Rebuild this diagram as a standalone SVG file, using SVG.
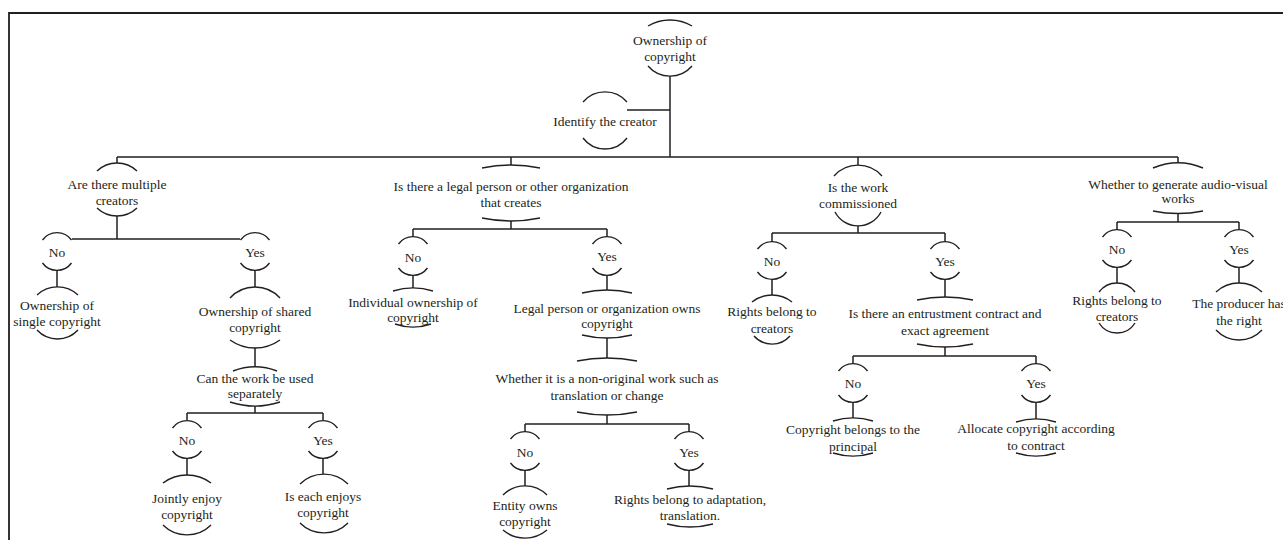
<svg xmlns="http://www.w3.org/2000/svg" width="1283" height="540" viewBox="0 0 1283 540">
<style>
.t{font-family:"Liberation Serif","Times New Roman",serif;font-size:13.5px;fill:#231f20;text-anchor:middle}
.a{fill:none;stroke:#231f20;stroke-width:1.4}
.c{fill:none;stroke:#231f20;stroke-width:1.5}
.f{fill:none;stroke:#231f20;stroke-width:1.8}
</style>
<rect x="0" y="0" width="1283" height="540" fill="#ffffff"/>
<path class="f" d="M9,540 V13 H1283"/>
<g id="connectors">
<path class="c" d="M670,76 V157 M627,110 H670 M117,157 H1178 M117,157 V163 M511,157 V165 M858,157 V165 M1178,157 V163"/>
<path class="c" d="M117,216 V239 M72,239 H240 M57,270 V287 M255,270 V287 M255,348 V367 M255,406 V413 M187,413 H323 M187,413 V420 M323,413 V420 M187,458 V475 M323,458 V474"/>
<path class="c" d="M511,221 V229 M413,229 H607 M413,229 V237 M607,229 V237 M413,275 V288 M607,275 V290 M607,338 V358 M607,415 V424 M525,424 H689 M525,424 V432 M689,424 V432 M525,470 V486 M689,470 V486"/>
<path class="c" d="M858,226 V233 M772,233 H945 M772,233 V242 M945,233 V242 M772,279 V295 M945,279 V297 M945,347 V356 M853,356 H1036 M853,356 V364 M1036,356 V364 M853,402 V418 M1036,402 V419"/>
<path class="c" d="M1178,213 V222 M1117,222 H1239 M1117,222 V230 M1239,222 V230 M1117,267 V283 M1239,267 V283"/>
</g>
<g id="root"><path class="a" d="M648,26 A43,43 0 0 1 692,26 M648,66 A29,29 0 0 0 692,66"/><text class="t" x="670" y="45">Ownership of</text><text class="t" x="670" y="61">copyright</text></g>
<g id="identify"><path class="a" d="M583,102 A29,29 0 0 1 627,102 M583,138 A27.5,27.5 0 0 0 627,138"/><text class="t" x="605" y="126">Identify the creator</text></g>
<g id="multiple"><path class="a" d="M97,171 A29,29 0 0 1 137,171 M97,208 A29,29 0 0 0 137,208"/><text class="t" x="117" y="189">Are there multiple</text><text class="t" x="117" y="205">creators</text></g>
<g id="mult-no"><path class="a" d="M42.5,240 A18,18 0 0 1 71.5,240 M42.5,263 A18,18 0 0 0 71.5,263"/><text class="t" x="57" y="257">No</text></g>
<g id="mult-yes"><path class="a" d="M240.5,240 A18,18 0 0 1 269.5,240 M240.5,263 A18,18 0 0 0 269.5,263"/><text class="t" x="255" y="257">Yes</text></g>
<g id="single"><path class="a" d="M37,295 A30,30 0 0 1 78,295 M37,330 A28,28 0 0 0 78,330"/><text class="t" x="57" y="310">Ownership of</text><text class="t" x="57" y="326">single copyright</text></g>
<g id="shared"><path class="a" d="M230,298 A34,34 0 0 1 280,298 M230,340 A43,43 0 0 0 280,340"/><text class="t" x="255" y="316">Ownership of shared</text><text class="t" x="255" y="332">copyright</text></g>
<g id="separately"><path class="a" d="M233,371 A62,62 0 0 1 277,371 M230,402 A80,80 0 0 0 280,402"/><text class="t" x="255" y="383">Can the work be used</text><text class="t" x="255" y="398">separately</text></g>
<g id="sep-no"><path class="a" d="M172.5,428 A18,18 0 0 1 201.5,428 M172.5,451 A18,18 0 0 0 201.5,451"/><text class="t" x="187" y="445">No</text></g>
<g id="sep-yes"><path class="a" d="M308.5,428 A18,18 0 0 1 337.5,428 M308.5,451 A18,18 0 0 0 337.5,451"/><text class="t" x="323" y="445">Yes</text></g>
<g id="jointly"><path class="a" d="M163,483 A40,40 0 0 1 211,483 M163,525 A34,34 0 0 0 211,525"/><text class="t" x="187" y="503">Jointly enjoy</text><text class="t" x="187" y="519">copyright</text></g>
<g id="each"><path class="a" d="M300,484 A34,34 0 0 1 348,484 M300,523 A34,34 0 0 0 348,523"/><text class="t" x="323" y="501">Is each enjoys</text><text class="t" x="323" y="517">copyright</text></g>
<g id="legal"><path class="a" d="M482,168 A142,142 0 0 1 540,168 M482,218 A142,142 0 0 0 540,218"/><text class="t" x="511" y="191">Is there a legal person or other organization</text><text class="t" x="511" y="207">that creates</text></g>
<g id="legal-no"><path class="a" d="M398.5,244 A18,18 0 0 1 427.5,244 M398.5,268 A18,18 0 0 0 427.5,268"/><text class="t" x="413" y="262">No</text></g>
<g id="legal-yes"><path class="a" d="M592.5,244 A18,18 0 0 1 621.5,244 M592.5,268 A18,18 0 0 0 621.5,268"/><text class="t" x="607" y="261">Yes</text></g>
<g id="individual"><path class="a" d="M393,291 A68,68 0 0 1 433,291 M395,324 A55,55 0 0 0 431,324"/><text class="t" x="413" y="307">Individual ownership of</text><text class="t" x="413" y="322">copyright</text></g>
<g id="org-owns"><path class="a" d="M582,293 A106,106 0 0 1 632,293 M582,335 A106,106 0 0 0 632,335"/><text class="t" x="607" y="313">Legal person or organization owns</text><text class="t" x="607" y="328">copyright</text></g>
<g id="non-original"><path class="a" d="M577,361 A151,151 0 0 1 637,361 M577,412 A151,151 0 0 0 637,412"/><text class="t" x="607" y="383">Whether it is a non-original work such as</text><text class="t" x="607" y="400">translation or change</text></g>
<g id="nonorig-no"><path class="a" d="M510.5,439 A18,18 0 0 1 539.5,439 M510.5,463 A18,18 0 0 0 539.5,463"/><text class="t" x="525" y="457">No</text></g>
<g id="nonorig-yes"><path class="a" d="M674.5,439 A18,18 0 0 1 703.5,439 M674.5,463 A18,18 0 0 0 703.5,463"/><text class="t" x="689" y="457">Yes</text></g>
<g id="entity"><path class="a" d="M503,495 A31,31 0 0 1 547,495 M503,530 A34,34 0 0 0 547,530"/><text class="t" x="525" y="510">Entity owns</text><text class="t" x="525" y="526">copyright</text></g>
<g id="adaptation"><path class="a" d="M667,489 A90,90 0 0 1 713,489 M667,524 A90,90 0 0 0 713,524"/><text class="t" x="690" y="504">Rights belong to adaptation,</text><text class="t" x="690" y="520">translation.</text></g>
<g id="commissioned"><path class="a" d="M834,176 A32,32 0 0 1 882,176 M835,212 A26,26 0 0 0 881,212"/><text class="t" x="858" y="192">Is the work</text><text class="t" x="858" y="208">commissioned</text></g>
<g id="comm-no"><path class="a" d="M757.5,249 A18,18 0 0 1 786.5,249 M757.5,272 A18,18 0 0 0 786.5,272"/><text class="t" x="772" y="266">No</text></g>
<g id="comm-yes"><path class="a" d="M930.5,249 A18,18 0 0 1 959.5,249 M930.5,272 A18,18 0 0 0 959.5,272"/><text class="t" x="945" y="266">Yes</text></g>
<g id="comm-creators"><path class="a" d="M752,302 A32,32 0 0 1 792,302 M754,336 A24,24 0 0 0 790,336"/><text class="t" x="772" y="316">Rights belong to</text><text class="t" x="772" y="333">creators</text></g>
<g id="entrustment"><path class="a" d="M917,300 A132,132 0 0 1 973,300 M917,344 A132,132 0 0 0 973,344"/><text class="t" x="945" y="318">Is there an entrustment contract and</text><text class="t" x="945" y="335">exact agreement</text></g>
<g id="entr-no"><path class="a" d="M838.5,371 A18,18 0 0 1 867.5,371 M838.5,395 A18,18 0 0 0 867.5,395"/><text class="t" x="853" y="388">No</text></g>
<g id="entr-yes"><path class="a" d="M1021.5,371 A18,18 0 0 1 1050.5,371 M1021.5,395 A18,18 0 0 0 1050.5,395"/><text class="t" x="1036" y="388">Yes</text></g>
<g id="principal"><path class="a" d="M833,421 A68,68 0 0 1 873,421 M833,453 A68,68 0 0 0 873,453"/><text class="t" x="853" y="434">Copyright belongs to the</text><text class="t" x="853" y="451">principal</text></g>
<g id="allocate"><path class="a" d="M1016,422 A68,68 0 0 1 1056,422 M1016,453 A68,68 0 0 0 1056,453"/><text class="t" x="1036" y="433">Allocate copyright according</text><text class="t" x="1036" y="450">to contract</text></g>
<g id="audiovisual"><path class="a" d="M1153,168 A65,65 0 0 1 1203,168 M1153,211 A126,126 0 0 0 1203,211"/><text class="t" x="1178" y="189">Whether to generate audio-visual</text><text class="t" x="1178" y="203">works</text></g>
<g id="av-no"><path class="a" d="M1102.5,237 A18,18 0 0 1 1131.5,237 M1102.5,260 A18,18 0 0 0 1131.5,260"/><text class="t" x="1117" y="254">No</text></g>
<g id="av-yes"><path class="a" d="M1224.5,237 A18,18 0 0 1 1253.5,237 M1224.5,260 A18,18 0 0 0 1253.5,260"/><text class="t" x="1239" y="254">Yes</text></g>
<g id="av-creators"><path class="a" d="M1099,292 A22.5,22.5 0 0 1 1135,292 M1099,323 A21.2,21.2 0 0 0 1135,323"/><text class="t" x="1117" y="305">Rights belong to</text><text class="t" x="1117" y="321">creators</text></g>
<g id="producer"><path class="a" d="M1216,292 A34,34 0 0 1 1262,292 M1216,330 A31.5,31.5 0 0 0 1262,330"/><text class="t" x="1239" y="308">The producer has</text><text class="t" x="1239" y="325">the right</text></g>
</svg>
